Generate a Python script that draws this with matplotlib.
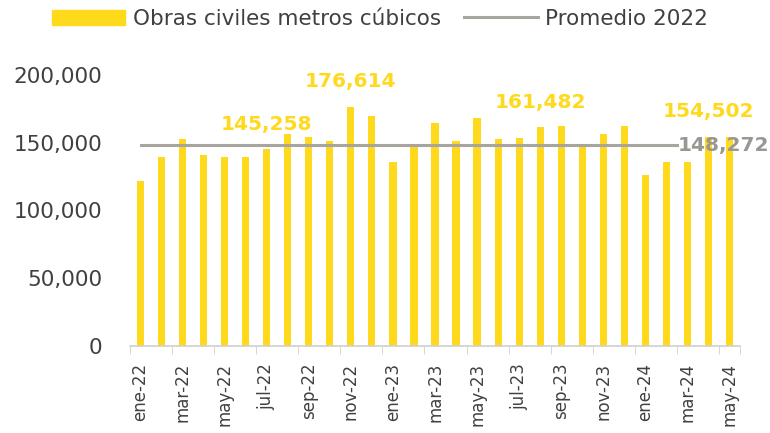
import matplotlib
matplotlib.use("Agg")
import matplotlib.pyplot as plt
from matplotlib.patches import Patch
from matplotlib.lines import Line2D
from matplotlib.ticker import FuncFormatter

meses = ["ene-22", "feb-22", "mar-22", "abr-22", "may-22", "jun-22", "jul-22", "ago-22",
         "sep-22", "oct-22", "nov-22", "dic-22", "ene-23", "feb-23", "mar-23", "abr-23",
         "may-23", "jun-23", "jul-23", "ago-23", "sep-23", "oct-23", "nov-23", "dic-23",
         "ene-24", "feb-24", "mar-24", "abr-24", "may-24"]
metros = [121500, 139200, 152900, 140900, 139500, 139200, 145258, 156600,
          153900, 151500, 176614, 169900, 136000, 148000, 164500, 151200,
          168100, 152900, 153200, 161482, 162000, 148000, 156400, 162700,
          126000, 136000, 135500, 154600, 154502]
promedio_2022 = 148272
etiquetas = {6: "145,258", 10: "176,614", 19: "161,482", 28: "154,502"}

amarillo = "#FFD91C"
gris = "#A8A49F"
texto = "#404040"

fig = plt.figure(figsize=(7.7, 4.33), dpi=100)
ax = fig.add_axes([130 / 770, 1 - 346 / 433, 610 / 770, 271 / 433])

x = list(range(len(meses)))
ax.bar(x, metros, width=0.34, color=amarillo, zorder=2)
ax.plot([0, 25.5], [promedio_2022, promedio_2022], color=gris, lw=2.2, zorder=3)

for i, lab in etiquetas.items():
    dx = -15 if i == 28 else 0
    ax.annotate(lab, (i, metros[i]), xytext=(dx, 18), textcoords="offset points",
                ha="center", va="center", fontsize=14.5, fontweight="bold",
                color=amarillo, zorder=4, annotation_clip=False)
ax.text(25.55, promedio_2022, "148,272", ha="left", va="center", fontsize=14.5,
        fontweight="bold", color="#9A9692", zorder=4, clip_on=False)

ax.set_xlim(-0.5, 28.5)
ax.set_ylim(0, 200000)
ax.set_yticks([0, 50000, 100000, 150000, 200000])
ax.yaxis.set_major_formatter(FuncFormatter(lambda v, p: f"{int(v):,}"))
ax.set_xticks(x[::2])
ax.set_xticklabels(meses[::2], rotation=90)
ax.set_xticks([i - 0.5 for i in range(0, 29, 2)] + [28.5], minor=True)
ax.tick_params(axis="x", which="major", length=0, pad=12, labelsize=12, labelcolor=texto)
ax.tick_params(axis="x", which="minor", length=6, color="#D0D0D0")
ax.tick_params(axis="y", length=0, pad=20, labelsize=15.5, labelcolor=texto)
for s in ["top", "right", "left"]:
    ax.spines[s].set_visible(False)
ax.spines["bottom"].set_color("#D0D0D0")
ax.spines["bottom"].set_linewidth(1.2)

handles = [Patch(color=amarillo), Line2D([0], [0], color=gris, lw=2.2)]
fig.legend(handles, ["Obras civiles metros cúbicos", "Promedio 2022"], ncol=2,
           loc="center left", bbox_to_anchor=(52 / 770, 1 - 19 / 433), frameon=False,
           fontsize=15.5, labelcolor=texto, handlelength=3.4, handletextpad=0.37,
           columnspacing=1.07, borderpad=0, borderaxespad=0)

fig.savefig("out.png", dpi=100)
